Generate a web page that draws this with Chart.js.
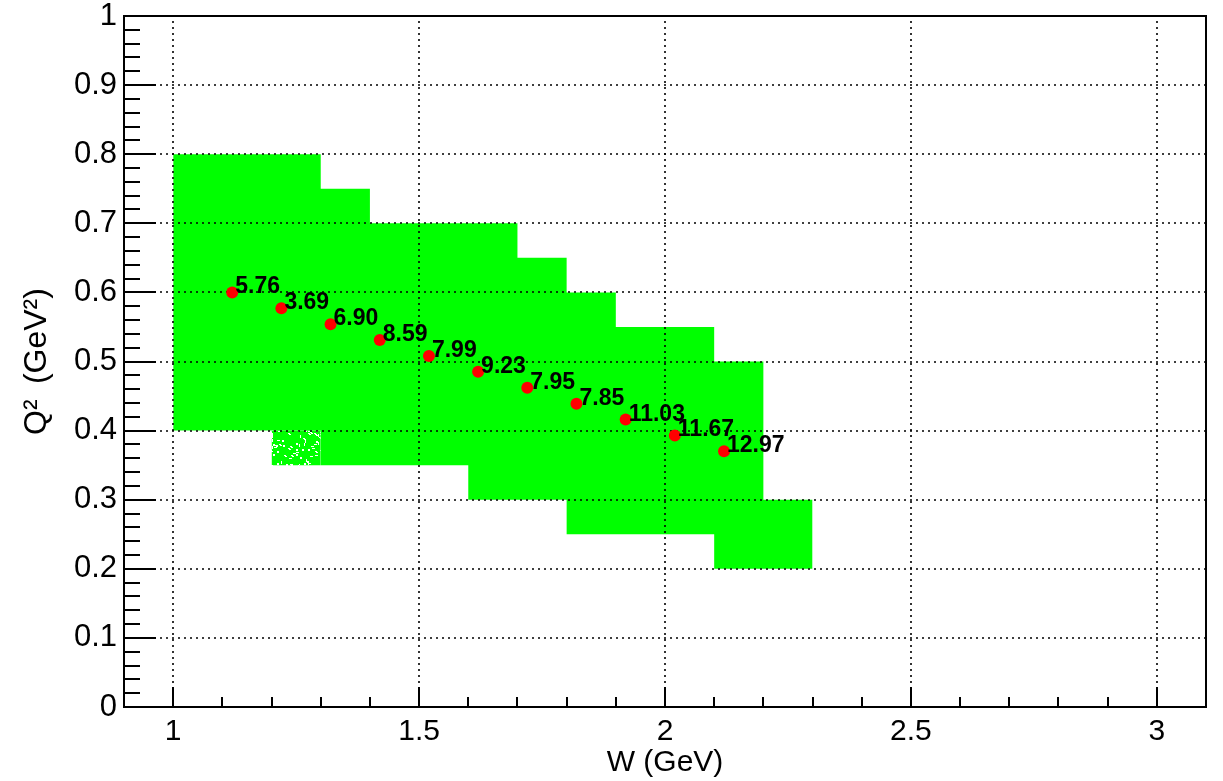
<!DOCTYPE html>
<html><head><meta charset="utf-8">
<script src="https://cdn.jsdelivr.net/npm/chart.js@4.4.0/dist/chart.umd.min.js"></script>
<style>html,body{margin:0;padding:0;background:#fff;}#wrap{width:1223px;height:781px;}</style>
</head><body><div id="wrap"><canvas id="c" width="1223" height="781"></canvas></div>
<script>
// ---- data ----
const wEdges   = [1.0, 1.1, 1.2, 1.3, 1.4, 1.5, 1.6, 1.7, 1.8, 1.9, 2.0, 2.1, 2.2, 2.3];
const q2Upper  = [0.80,0.80,0.80,0.75,0.70,0.70,0.70,0.65,0.60,0.55,0.55,0.50,0.30,0.30];
const q2Lower  = [0.40,0.40,0.40,0.35,0.35,0.35,0.30,0.30,0.25,0.25,0.25,0.20,0.20,0.20];
const sparseW     = [1.2, 1.3];
const sparseUpper = [0.40, 0.40];
const sparseLower = [0.35, 0.35];
const pointW  = [1.12, 1.22, 1.32, 1.42, 1.52, 1.62, 1.72, 1.82, 1.92, 2.02, 2.12];
const pointQ2 = [0.600,0.577,0.554,0.531,0.508,0.485,0.462,0.439,0.416,0.393,0.370];
const pointLabels = ["5.76","3.69","6.90","8.59","7.99","9.23","7.95","7.85","11.03","11.67","12.97"];
const xMajorTicks = [1, 1.5, 2, 2.5, 3];
const xTickLabels = ["1","1.5","2","2.5","3"];
const xMinorTicks = [0.9,1.1,1.2,1.3,1.4,1.6,1.7,1.8,1.9,2.1,2.2,2.3,2.4,2.6,2.7,2.8,2.9,3.1];
const yMajorTicks = [0,0.1,0.2,0.3,0.4,0.5,0.6,0.7,0.8,0.9,1];
const yTickLabels = ["0","0.1","0.2","0.3","0.4","0.5","0.6","0.7","0.8","0.9","1"];
const yMinorTicks = [0.02,0.04,0.06,0.08,0.12,0.14,0.16,0.18,0.22,0.24,0.26,0.28,0.32,0.34,0.36,0.38,
  0.42,0.44,0.46,0.48,0.52,0.54,0.56,0.58,0.62,0.64,0.66,0.68,0.72,0.74,0.76,0.78,0.82,0.84,0.86,0.88,0.92,0.94,0.96,0.98];

const FONT = '"Liberation Sans", Arial, Helvetica, sans-serif';
Chart.defaults.font.family = FONT;
Chart.defaults.color = '#000';
const GREEN = '#00ff00';

// speckled texture (style only) for the sparsely populated bin
function makePattern(){
  const W = 50, H = 36;
  const c = document.createElement('canvas'); c.width = W; c.height = H;
  const g = c.getContext('2d');
  g.fillStyle = GREEN; g.fillRect(0,0,W,H);
  g.fillStyle = '#ffffff';
  const h = n => { const s = Math.sin(n * 12.9898) * 43758.5453; return s - Math.floor(s); };
  for (let i = 1; i <= 70; i++) {
    const x = Math.floor(h(i) * W), y = Math.floor(h(i + 500) * H), k = Math.floor(h(i + 900) * 4);
    if (k === 0) g.fillRect(x, y, 3, 1);
    else if (k === 1) g.fillRect(x, y, 1, 3);
    else if (k === 2) { g.fillRect(x, y, 2, 1); g.fillRect(x + 1, y + 1, 2, 1); }
    else g.fillRect(x, y, 2, 2);
  }
  return g.createPattern(c, 'repeat');
}
const sparsePattern = makePattern();

const toXY = (xs, ys) => xs.map((x, i) => ({x: x, y: ys[i]}));

const rootPlugin = {
  id: 'rootStyle',
  beforeDatasetDraw(chart, args) {
    if (args.index !== 0) return;
    const {ctx, chartArea: a, scales: {x, y}} = chart;
    ctx.save();
    ctx.strokeStyle = '#000'; ctx.lineWidth = 1.6; ctx.setLineDash([2, 4]);
    xMajorTicks.forEach(v => {
      const px = Math.round(x.getPixelForValue(v));
      ctx.beginPath(); ctx.moveTo(px, a.bottom); ctx.lineTo(px, a.top); ctx.stroke();
    });
    yMajorTicks.forEach(v => {
      if (v === 0 || v === 1) return;
      const py = Math.round(y.getPixelForValue(v));
      ctx.beginPath(); ctx.moveTo(a.left, py); ctx.lineTo(a.right, py); ctx.stroke();
    });
    ctx.restore();
  },
  afterDatasetsDraw(chart) {
    const {ctx} = chart;
    const meta = chart.getDatasetMeta(0);
    ctx.save();
    ctx.fillStyle = '#000';
    ctx.font = 'bold 23px ' + FONT;
    ctx.textAlign = 'left'; ctx.textBaseline = 'alphabetic';
    meta.data.forEach((el, i) => {
      ctx.fillText(pointLabels[i], el.x + 3, el.y + 1);
    });
    ctx.restore();
  },
  afterDraw(chart) {
    const {ctx, chartArea: a, scales: {x, y}} = chart;
    ctx.save();
    ctx.strokeStyle = '#000'; ctx.lineWidth = 2; ctx.setLineDash([]);
    ctx.strokeRect(a.left, a.top, a.right - a.left, a.bottom - a.top);
    ctx.beginPath();
    yMajorTicks.forEach(v => { const p = Math.round(y.getPixelForValue(v)); ctx.moveTo(a.left, p); ctx.lineTo(a.left + 32, p); });
    yMinorTicks.forEach(v => { const p = Math.round(y.getPixelForValue(v)); ctx.moveTo(a.left, p); ctx.lineTo(a.left + 16, p); });
    xMajorTicks.forEach(v => { const p = Math.round(x.getPixelForValue(v)); ctx.moveTo(p, a.bottom); ctx.lineTo(p, a.bottom - 20); });
    xMinorTicks.forEach(v => { const p = Math.round(x.getPixelForValue(v)); ctx.moveTo(p, a.bottom); ctx.lineTo(p, a.bottom - 10); });
    ctx.stroke();
    ctx.restore();
  }
};

new Chart(document.getElementById('c'), {
  type: 'scatter',
  data: {
    datasets: [
      { label: 'points', data: toXY(pointW, pointQ2), order: 0,
        pointRadius: 6, pointHoverRadius: 6, backgroundColor: '#ff0000', borderWidth: 0, showLine: false },
      { label: 'upper', data: toXY(wEdges, q2Upper), order: 1, showLine: true, stepped: 'before',
        pointRadius: 0, borderColor: 'rgba(0,0,0,0)', borderWidth: 1, backgroundColor: GREEN, fill: '+1' },
      { label: 'lower', data: toXY(wEdges, q2Lower), order: 1, showLine: true, stepped: 'before',
        pointRadius: 0, borderColor: 'rgba(0,0,0,0)', borderWidth: 1, fill: false },
      { label: 'sparseUpper', data: toXY(sparseW, sparseUpper), order: 1, showLine: true, stepped: 'before',
        pointRadius: 0, borderColor: 'rgba(0,0,0,0)', borderWidth: 1, backgroundColor: sparsePattern, fill: '+1' },
      { label: 'sparseLower', data: toXY(sparseW, sparseLower), order: 1, showLine: true, stepped: 'before',
        pointRadius: 0, borderColor: 'rgba(0,0,0,0)', borderWidth: 1, fill: false }
    ]
  },
  options: {
    responsive: false, animation: false, devicePixelRatio: 1,
    layout: { padding: { top: 16, right: 17, left: 0, bottom: 0 } },
    plugins: { legend: { display: false }, tooltip: { enabled: false } },
    scales: {
      x: {
        type: 'linear', min: 0.9, max: 3.1, position: 'bottom',
        afterBuildTicks: s => { s.ticks = xMajorTicks.map(v => ({value: v})); },
        ticks: { callback: (v, i) => xTickLabels[i], font: { size: 30 }, color: '#000', padding: 7, maxRotation: 0, autoSkip: false },
        grid: { display: false, drawTicks: false }, border: { display: false },
        title: { display: true, text: 'W (GeV)', font: { size: 30 }, color: '#000', padding: { top: 0, bottom: 0 } },
        afterFit: s => { s.height = 74; s.paddingLeft = 0; s.paddingRight = 0; }
      },
      y: {
        type: 'linear', min: 0, max: 1, position: 'left',
        afterBuildTicks: s => { s.ticks = yMajorTicks.map(v => ({value: v})); },
        ticks: { callback: (v, i) => yTickLabels[i], font: { size: 31 }, color: '#000', padding: 7, autoSkip: false },
        grid: { display: false, drawTicks: false }, border: { display: false },
        title: { display: true, text: 'Q\u00B2 \u2009(GeV\u00B2)', font: { size: 32 }, color: '#000', padding: { top: 18, bottom: 0 } },
        afterFit: s => { s.width = 124; s.paddingTop = 0; s.paddingBottom = 0; }
      }
    }
  },
  plugins: [rootPlugin]
});
</script></body></html>
